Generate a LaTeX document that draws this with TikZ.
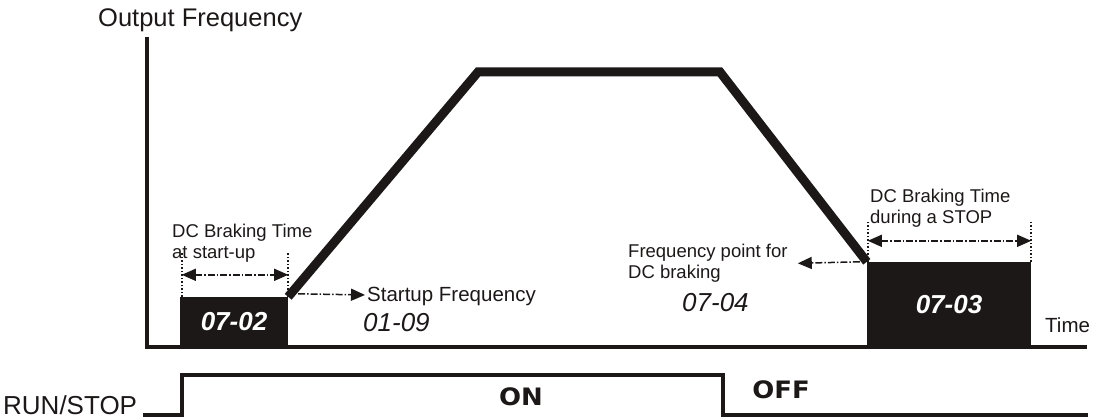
\documentclass[tikz,border=0pt]{standalone}
\usepackage{fontspec}
\setmainfont{Liberation Sans}
\newfontfamily\heavyfont{DejaVu Sans}[FakeStretch=1.08]
\usetikzlibrary{arrows.meta,positioning}
\definecolor{drvblack}{RGB}{28,24,24}

\begin{document}
\begin{tikzpicture}[x=1pt,y=-1pt,
    lbl/.style={inner sep=0pt,text=drvblack,align=left},
    small/.style={lbl,font=\fontsize{18.5}{21}\selectfont},
    big/.style={lbl,font=\fontsize{25.5}{26}\selectfont},
    code/.style={lbl,font=\fontsize{26}{26}\selectfont\itshape},
    brkbox/.style={fill=drvblack,inner sep=0pt,text=white,font=\fontsize{26}{26}\selectfont\bfseries\itshape},
    state/.style={lbl,font=\heavyfont\bfseries\fontsize{24}{24}\selectfont},
    ramp/.style={draw=drvblack,line width=9pt,line join=miter},
    axis/.style={draw=drvblack,line width=3.5pt},
    signal/.style={draw=drvblack,line width=4pt},
    tick/.style={draw=drvblack,line width=1.5pt,dotted},
    dimline/.style={draw=drvblack,line width=1.5pt,dash pattern=on 7pt off 2pt on 1.5pt off 2pt,
      {Triangle[length=14pt,width=12pt]}-{Triangle[length=14pt,width=12pt]}},
    ptr/.style={draw=drvblack,line width=1.5pt,dash pattern=on 7pt off 2pt on 1.5pt off 2pt,
      -{Triangle[length=14pt,width=12pt]}}
  ]
  \useasboundingbox (0,0) rectangle (1093,419);

  % axes
  \coordinate (ytop) at (147,37);
  \coordinate (org) at (147,347);
  \coordinate (xend) at (1087,347);
  \draw[axis] (ytop) -- (org) -- (xend);
  \node[big,anchor=base west] (yname) at (98,27) {Output Frequency};
  \node[lbl,anchor=base west,font=\fontsize{20.5}{22}\selectfont] (xname) at (1045,333) {Time};

  % dc braking blocks
  \node[brkbox,minimum width=108pt,minimum height=50pt] (brkstart) at (234,322) {07-02};
  \node[brkbox,minimum width=164pt,minimum height=85pt] (brkstop) at (949,304.5) {07-03};

  % frequency profile
  \coordinate (topL) at (478,72);
  \coordinate (topR) at (720,72);
  \draw[ramp] (brkstart.north east) -- (topL) -- (topR) -- (brkstop.north west);

  % braking time at start-up
  \node[small,anchor=north west] (dcstart) at (172,224) {DC Braking Time\\at start-up};
  \draw[tick] ([xshift=2pt]brkstart.north west) -- ++(0,-44);
  \draw[tick] (brkstart.north east) -- ++(0,-44);
  \draw[dimline] ([xshift=2pt,yshift=22pt]brkstart.north west) -- ([yshift=22pt]brkstart.north east);

  % startup frequency
  \node[lbl,anchor=base west,font=\fontsize{20.5}{22}\selectfont] (sufreq) at (367,302) {Startup Frequency};
  \node[code,anchor=base west] (sucode) at (363,332) {01-09};
  \draw[ptr] ([xshift=10pt,yshift=3pt]brkstart.north east) -- ([xshift=-2pt,yshift=2pt]sufreq.west);

  % braking time during a stop
  \node[small,anchor=north west] (dcstop) at (870,189) {DC Braking Time\\during a STOP};
  \draw[tick] ([xshift=1pt]brkstop.north west) -- ++(0,-41);
  \draw[tick] (brkstop.north east) -- ++(0,-41);
  \draw[dimline] ([xshift=1pt,yshift=21pt]brkstop.north west) -- ([yshift=21pt]brkstop.north east);

  % frequency point for dc braking
  \node[small,anchor=north west] (fpoint) at (628,244) {Frequency point for\\DC braking};
  \node[code,anchor=base west] (fpcode) at (682,312) {07-04};
  \draw[ptr] ([xshift=-7pt]brkstop.north west) -- ([xshift=10pt]fpoint.east);

  % run/stop command
  \node[big,anchor=base west,font=\fontsize{26}{26}\selectfont] (runstop) at (3,415) {RUN/STOP};
  \coordinate (sigL) at (143,415);
  \coordinate (runOn) at (182,375);
  \coordinate (runOff) at (723,415);
  \coordinate (sigEnd) at (1088,415);
  \draw[signal] (sigL) -| (runOn) -| (runOff) -- (sigEnd);
  \node[state] (onlbl) at (521,397) {ON};
  \node[state] (offlbl) at (781,390) {OFF};
\end{tikzpicture}
\end{document}
